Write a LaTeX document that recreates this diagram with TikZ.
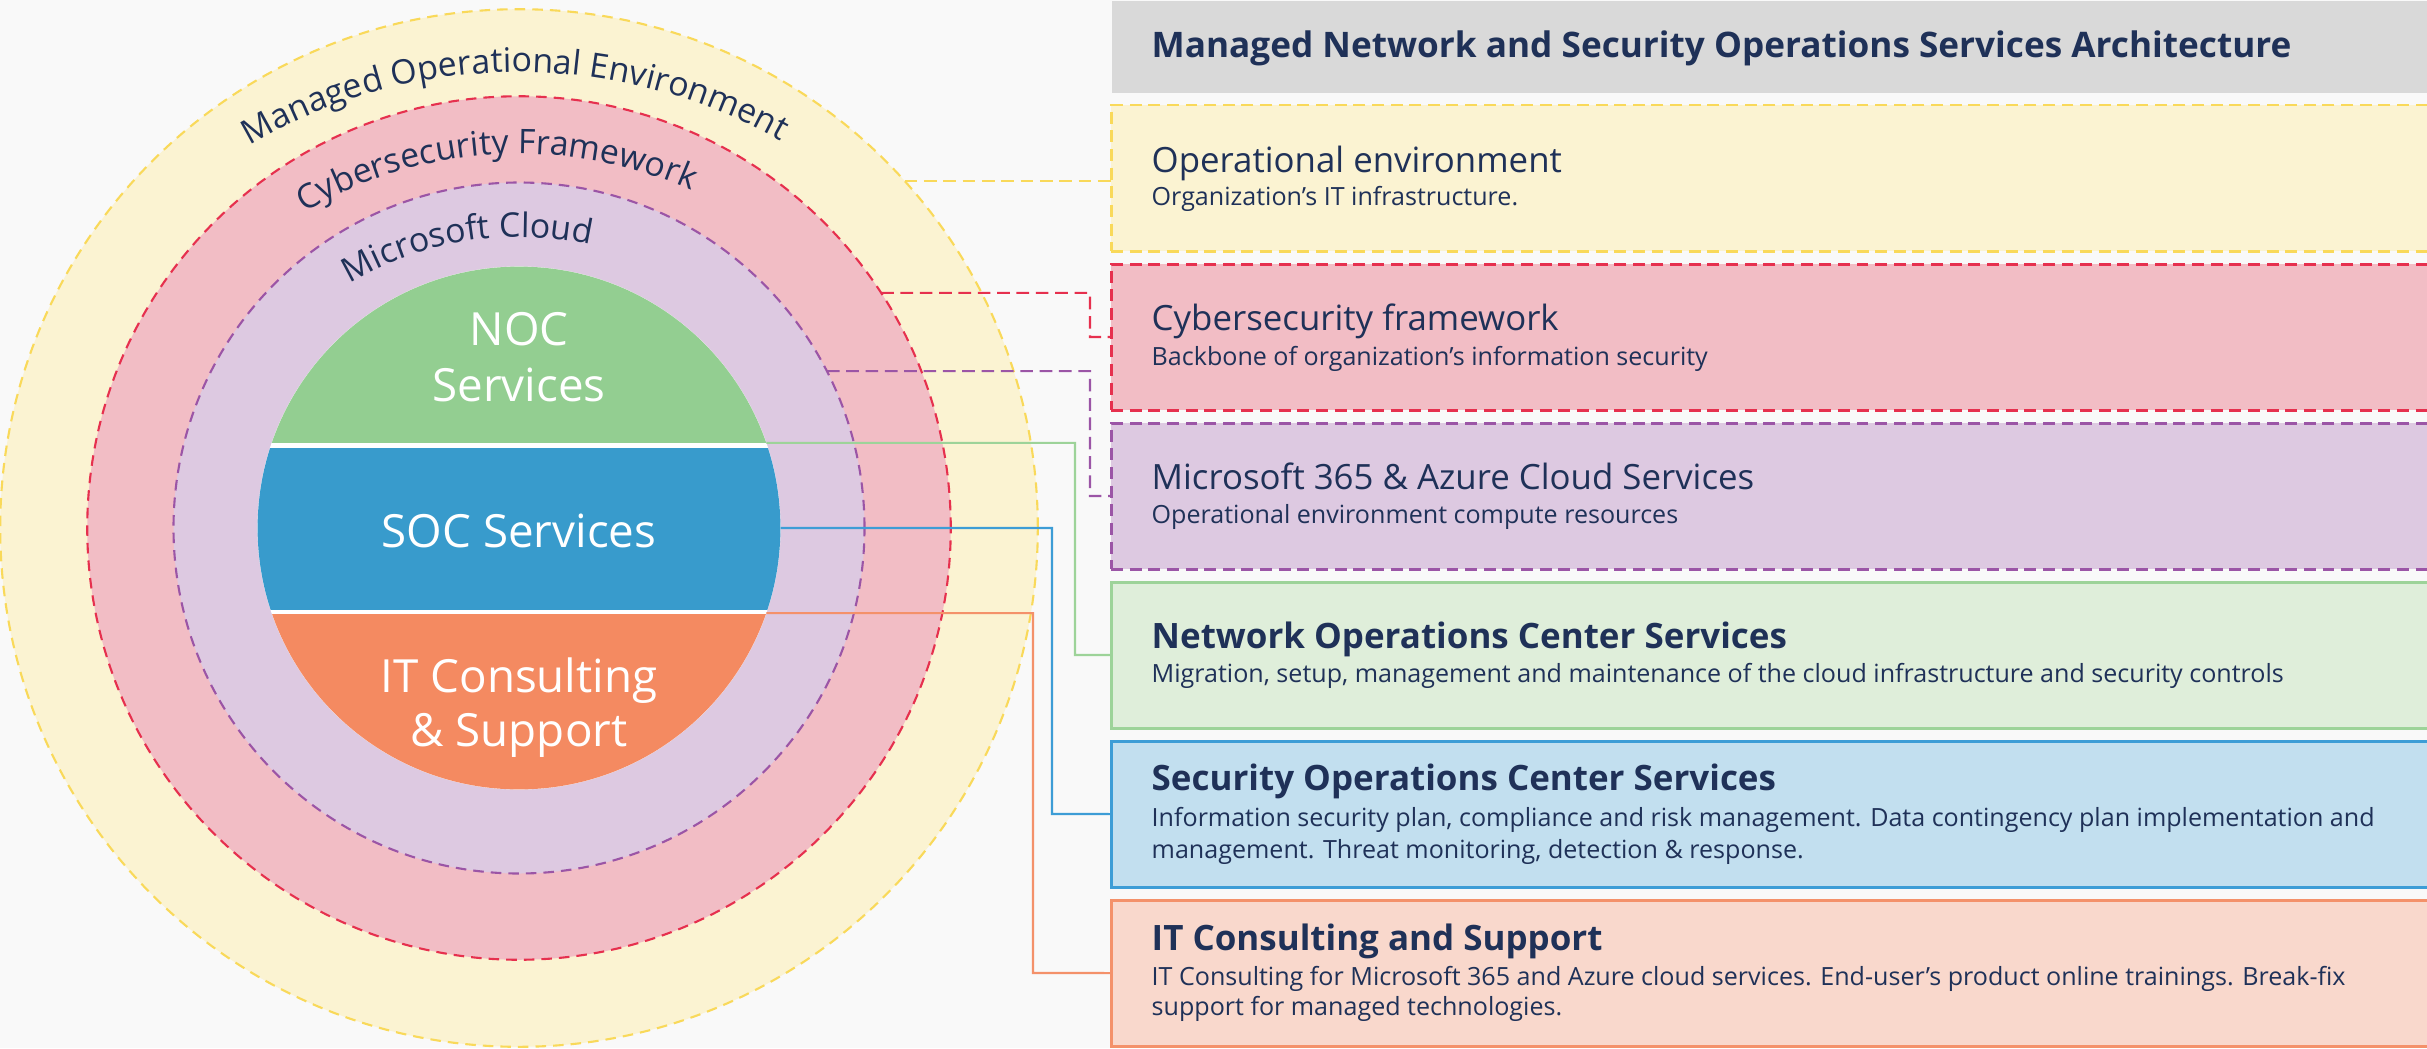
\documentclass[tikz,border=0pt]{standalone}
\usepackage{fontspec}
\setmainfont{Open Sans}
\usetikzlibrary{decorations.text}
\definecolor{navy}{HTML}{1F3158}
\definecolor{bgc}{HTML}{F9F9F9}
\definecolor{ylwfill}{HTML}{FBF3D2}
\definecolor{ylwline}{HTML}{F9D95A}
\definecolor{redfill}{HTML}{F2BDC5}
\definecolor{redline}{HTML}{E6304E}
\definecolor{purfill}{HTML}{DDC9E1}
\definecolor{purline}{HTML}{9B55A6}
\definecolor{nocc}{HTML}{93CE91}
\definecolor{socc}{HTML}{389BCC}
\definecolor{itc}{HTML}{F48A61}
\definecolor{grnfill}{HTML}{DFEEDA}
\definecolor{grnline}{HTML}{9DD399}
\definecolor{blufill}{HTML}{C2DFEF}
\definecolor{bluline}{HTML}{3D9DD6}
\definecolor{orgfill}{HTML}{F9D8CC}
\definecolor{orgline}{HTML}{F4916A}
\definecolor{grayfill}{HTML}{D9D9D9}
\newcommand\arcfont{\fontsize{9.62pt}{11pt}\selectfont}
\tikzset{
  ring/.style={circle, inner sep=0pt, outer sep=0pt, line width=0.6pt, dash pattern=on 3pt off 2pt},
  panel/.style={rectangle, anchor=north west, minimum width=13.3cm, minimum height=1.46cm, inner sep=0pt, outer sep=0pt, line width=0.85pt},
  dashedpanel/.style={panel, dash pattern=on 3.4pt off 1.9pt},
  conn/.style={line width=0.6pt},
  dconn/.style={conn, dash pattern=on 3.6pt off 1.9pt},
  headtext/.style={anchor=base west, inner sep=0pt, text=navy, font=\fontsize{10pt}{12pt}\selectfont\bfseries},
  boxtitle/.style={anchor=base west, inner sep=0pt, text=navy, font=\fontsize{9.9pt}{11pt}\selectfont},
  boxtitleb/.style={anchor=base west, inner sep=0pt, text=navy, font=\fontsize{9.94pt}{11pt}\selectfont\bfseries},
  boxsub/.style={anchor=base west, inner sep=0pt, text=navy, font=\fontsize{7.13pt}{9pt}\selectfont},
  svctext/.style={anchor=base, inner sep=0pt, text=white, font=\fontsize{13pt}{15pt}\selectfont},
  arctext/.style={decorate, decoration={text along path, text color=navy, text format delimiters={|}{|}}}
}
\begin{document}
\begin{tikzpicture}[x=0.01cm,y=0.01cm]
\useasboundingbox (0,0) rectangle (2427,-1048);
\clip (0,0) rectangle (2427,-1048);
\fill[bgc] (0,0) rectangle (2427,-1048);
\coordinate (C) at (519,-528);
% rings
\node[ring, minimum size=10.37cm, draw=ylwline, fill=ylwfill] (yel) at (C) {};
\node[ring, minimum size=8.63cm, draw=redline, fill=redfill] (red) at (C) {};
\node[ring, minimum size=6.906cm, draw=purline, fill=purfill] (pur) at (C) {};
\node[circle, minimum size=5.228cm, inner sep=0pt, outer sep=0pt, fill=white] (svc) at (C) {};
\begin{scope}
  \clip (C) circle[radius=261.4];
  \fill[nocc] (240,-250) rectangle (800,-443.3);
  \fill[socc] (240,-447.7) rectangle (800,-610);
  \fill[itc] (240,-614.3) rectangle (800,-800);
\end{scope}
% ring labels
\path[arctext, decoration={text={|\arcfont|Managed Operational Environment}}]
  (519,-603) ++(120.5:531) arc[start angle=120.5, end angle=20, radius=531];
\path[arctext, decoration={text={|\arcfont|Cybersecurity Framework}}]
  (519,-580) ++(120.3:426) arc[start angle=120.3, end angle=20, radius=426];
\path[arctext, decoration={text={|\arcfont|Microsoft Cloud}}]
  (519,-570) ++(120.6:333) arc[start angle=120.6, end angle=20, radius=333];
% service labels
\node[svctext] (noc1) at (519,-345) {NOC};
\node[svctext] (noc2) at (519,-401.7) {Services};
\node[svctext] (soc1) at (519,-547) {SOC Services};
\node[svctext] (it1) at (519,-692) {IT Consulting};
\node[svctext] (it2) at (519,-746.4) {\& Support};
% right panels
\node[rectangle, anchor=north west, fill=grayfill, minimum width=13.3cm, minimum height=0.925cm, inner sep=0pt] (head) at (1111,0) {};
\node[headtext] (headt) at (1151,-57.3) {Managed Network and Security Operations Services Architecture};
\node[dashedpanel, fill=ylwfill, draw=ylwline] (box1) at (1111,-105) {};
\node[dashedpanel, fill=redfill, draw=redline] (box2) at (1111,-264) {};
\node[dashedpanel, fill=purfill, draw=purline] (box3) at (1111,-423) {};
\node[panel, fill=grnfill, draw=grnline] (box4) at (1111,-582) {};
\node[panel, fill=blufill, draw=bluline] (box5) at (1111,-741) {};
\node[panel, fill=orgfill, draw=orgline] (box6) at (1111,-900) {};
\node[boxtitle] (t1) at (1151,-172) {Operational environment};
\node[boxsub] (s1) at (1151,-205) {Organization’s IT infrastructure.};
\node[boxtitle] (t2) at (1151,-330) {Cybersecurity framework};
\node[boxsub] (s2) at (1151,-365.5) {Backbone of organization’s information security};
\node[boxtitle] (t3) at (1151,-489.5) {Microsoft 365 \& Azure Cloud Services};
\node[boxsub] (s3) at (1151,-523) {Operational environment compute resources};
\node[boxtitleb] (t4) at (1151,-648.3) {Network Operations Center Services};
\node[boxsub] (s4) at (1151,-682.7) {Migration, setup, management and maintenance of the cloud infrastructure and security controls};
\node[boxtitleb] (t5) at (1151,-790) {Security Operations Center Services};
\node[boxsub] (s5a) at (1151,-826.7) {Information security plan, compliance and risk management. Data contingency plan implementation and};
\node[boxsub] (s5b) at (1151,-858.3) {management. Threat monitoring, detection \& response.};
\node[boxtitleb] (t6) at (1151,-950) {IT Consulting and Support};
\node[boxsub] (s6a) at (1151,-985) {IT Consulting for Microsoft 365 and Azure cloud services. End-user’s product online trainings. Break-fix};
\node[boxsub] (s6b) at (1151,-1015) {support for managed technologies.};
% connectors
\coordinate (b2) at (1090,-337);
\coordinate (b3) at (1090,-496);
\coordinate (b4) at (1075,-655);
\coordinate (b5) at (1052,-814);
\coordinate (b6) at (1033,-973);
\draw[dconn, ylwline] (yel.42.4) -- (yel.42.4 -| box1.west);
\draw[dconn, redline] (red.33.8) -| (b2) -- (box2.west);
\draw[dconn, purline] (pur.27.5) -| (b3) -- (box3.west);
\draw[conn, grnline] (svc.19.4) -| (b4) -- (box4.west);
\draw[conn, bluline] (svc.0) -| (b5) -- (box5.west);
\draw[conn, orgline] (svc.-19.8) -| (b6) -- (box6.west);
\end{tikzpicture}
\end{document}
